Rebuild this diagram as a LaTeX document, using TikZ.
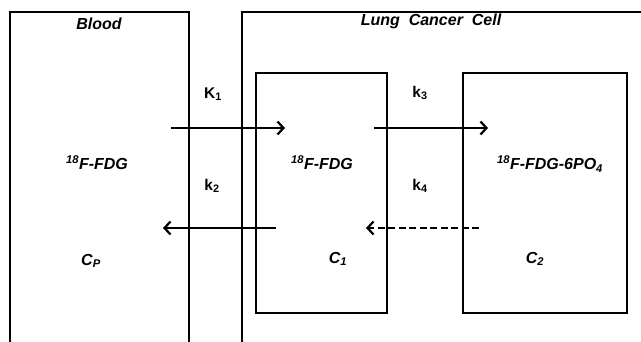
\documentclass[tikz,border=0pt]{standalone}
\usepackage{fontspec}
\setmainfont{Liberation Sans}
\usetikzlibrary{arrows.meta,positioning}
\tikzset{
  pool/.style={draw=black, line width=2.2pt, minimum height=240pt, inner sep=0pt, fill=none},
  wall/.style={draw=black, line width=2.2pt},
  tag/.style={font=\bfseries\itshape\fontsize{16}{19}\selectfont, inner sep=0pt},
  rate/.style={font=\bfseries\fontsize{15.5}{18}\selectfont, inner sep=0pt},
  flow/.style={-{Straight Barb[length=6pt,width=13pt]}, line width=2.2pt, draw=black},
  backflow/.style={flow, dash pattern=on 7pt off 3.5pt}
}

\begin{document}
\begin{tikzpicture}[x=1pt, y=-1pt]
  \useasboundingbox (0,0) rectangle (641,342);
  \clip (0,0) rectangle (641,342);
  % compartments
  \draw[wall] (10,350) -- (10,12) -- (189,12) -- (189,350);
  \draw[wall] (242,350) -- (242,12) -- (650,12);
  \node[pool, minimum width=131pt] (free) at (321.5,193) {};
  \node[pool, minimum width=164pt] (bound) at (545,193) {};

  \node[tag] (blood) at (99,24) {Blood};
  \node[tag] (cell) at (431,21) {Lung\ \ Cancer\ \ Cell};

  \node[tag] (fdgp) at (97,163) {\textsuperscript{18}F-FDG};
  \node[tag] (fdgc) at (322,163) {\textsuperscript{18}F-FDG};
  \node[tag] (fdgm) at (550,164) {\textsuperscript{18}F-FDG-6PO\textsubscript{4}};
  \node[tag] (cp) at (91,261) {C\textsubscript{P}};
  \node[tag] (c1) at (338,259) {C\textsubscript{1}};
  \node[tag] (c2) at (535,259) {C\textsubscript{2}};

  \node[rate] (K1) at (213,94) {K\textsubscript{1}};
  \node[rate] (k2) at (212,186) {k\textsubscript{2}};
  \node[rate] (k3) at (420,93) {k\textsubscript{3}};
  \node[rate] (k4) at (420,186) {k\textsubscript{4}};

  % arrow ends
  \coordinate (inA) at (171,128);
  \coordinate (inB) at (285,128);
  \coordinate (outA) at (276,228);
  \coordinate (outB) at (163,228);
  \coordinate (phA) at (374,128);
  \coordinate (phB) at (488,128);
  \coordinate (deA) at (479,228);
  \coordinate (deB) at (366,228);

  \draw[flow] (inA) -- (inB);
  \draw[flow] (outA) -- (outB);
  \draw[flow] (phA) -- (phB);
  \draw[backflow] (deA) -- (deB);
\end{tikzpicture}
\end{document}
